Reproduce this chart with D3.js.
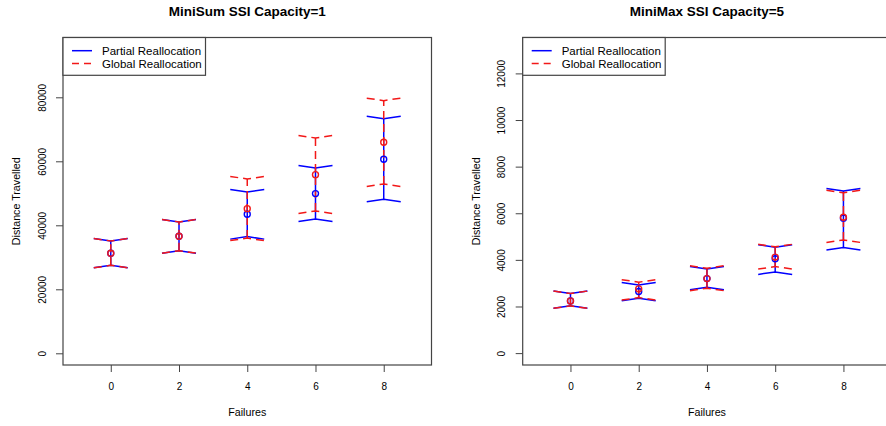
<!DOCTYPE html>
<meta charset="utf-8" />
<style>
  body {
    margin: 0;
    background: #fff;
  }
  text {
    font-family: "Liberation Sans", Arial, Helvetica, sans-serif;
    fill: #000;
  }
</style>
<body>
  <script src="https://cdn.jsdelivr.net/npm/d3@7/dist/d3.min.js"></script>
  <script>
    // x values (number of failures)
    var failures = [0, 2, 4, 6, 8];

    // MiniSum, capacity 1: mean and interval ends
    var minisumPartialMean = [31250, 36560, 43440, 49900, 60620];
    var minisumPartialLow = [27500, 32080, 36460, 41980, 48120];
    var minisumPartialHigh = [35100, 41040, 50420, 57920, 73330];
    var minisumGlobalMean = [31250, 36560, 45210, 55830, 65940];
    var minisumGlobalLow = [27500, 32080, 36000, 44480, 52920];
    var minisumGlobalHigh = [35100, 41040, 54480, 67290, 78960];

    // MiniMax, capacity 5
    var minimaxPartialMean = [2241, 2640, 3197, 4050, 5790];
    var minimaxPartialLow = [2027, 2357, 2829, 3484, 4526];
    var minimaxPartialHigh = [2554, 2927, 3613, 4543, 6956];
    var minimaxGlobalMean = [2241, 2756, 3197, 4120, 5830];
    var minimaxGlobalLow = [2027, 2383, 2786, 3713, 4856];
    var minimaxGlobalHigh = [2554, 3043, 3640, 4560, 6880];

    // tick labels
    var minisumTicks = [0, 20000, 40000, 60000, 80000];
    var minimaxTicks = [0, 2000, 4000, 6000, 8000, 10000, 12000];

    var seriesNames = ["Partial Reallocation", "Global Reallocation"];

    var blue = "#0000ff",
      red = "#f21818",
      redDash = "8,5";

    // plot region (pixels), same for both panels
    var panelW = 368.5,
      plotTop = 37.5,
      plotBottom = 365;

    var svg = d3
      .select("body")
      .append("svg")
      .attr("width", 886)
      .attr("height", 426)
      .style("display", "block");

    function rows(mean, low, high) {
      return failures.map(function (f, i) {
        return { f: f, mean: mean[i], low: low[i], high: high[i] };
      });
    }

    function drawPanel(p) {
      var x = d3.scaleLinear().domain([-1.4, 9.4]).range([p.left, p.left + panelW]);
      var y = d3.scaleLinear().domain(p.yDomain).range([plotBottom, plotTop]);
      var g = svg.append("g");

      // title
      g.append("text")
        .attr("x", p.left + panelW / 2)
        .attr("y", 16)
        .attr("text-anchor", "middle")
        .style("font-size", "13.5px")
        .style("font-weight", "bold")
        .text(p.title);

      // bottom axis
      var xa = g
        .append("g")
        .attr("transform", "translate(0," + plotBottom + ")")
        .call(d3.axisBottom(x).tickValues(failures).tickSize(7).tickSizeOuter(0).tickPadding(10.5));
      xa.select(".domain").remove();
      xa.selectAll("line").attr("stroke", "#444");
      xa.selectAll("text").style("font-size", "10px").attr("font-family", null);

      // left axis, labels turned like R
      var ya = g
        .append("g")
        .attr("transform", "translate(" + p.left + ",0)")
        .call(d3.axisLeft(y).tickValues(p.ticks).tickSize(7).tickSizeOuter(0).tickFormat(d3.format("d")));
      ya.select(".domain").remove();
      ya.selectAll("line").attr("stroke", "#444");
      ya.selectAll("text")
        .attr("x", 0)
        .attr("dy", null)
        .attr("font-family", null)
        .attr("text-anchor", "middle")
        .attr("transform", "translate(-17.5,0) rotate(-90)")
        .style("font-size", "10px");

      // axis titles
      g.append("text")
        .attr("transform", "translate(" + (p.left - 43) + "," + (plotTop + plotBottom) / 2 + ") rotate(-90)")
        .attr("text-anchor", "middle")
        .style("font-size", "10.7px")
        .text("Distance Travelled");

      g.append("text")
        .attr("x", x(4))
        .attr("y", 416)
        .attr("text-anchor", "middle")
        .style("font-size", "10.7px")
        .text("Failures");

      // error bars, partial (blue) first, global (red dashed) on top
      [
        { data: p.partial, color: blue, dash: null },
        { data: p.global, color: red, dash: redDash }
      ].forEach(function (s) {
        var eb = g.append("g")
          .attr("fill", "none")
          .attr("stroke", s.color)
          .attr("stroke-width", 1.5)
          .attr("stroke-dasharray", s.dash);

        eb.selectAll(".shaft")
          .data(s.data)
          .enter()
          .append("line")
          .attr("x1", function (d) { return x(d.f); })
          .attr("x2", function (d) { return x(d.f); })
          .attr("y1", function (d) { return y(d.low); })
          .attr("y2", function (d) { return y(d.high); });

        eb.selectAll(".capHigh")
          .data(s.data)
          .enter()
          .append("path")
          .attr("d", function (d) {
            var cx = x(d.f), cy = y(d.high);
            return "M" + (cx - 17) + "," + (cy - 2.5) + "L" + cx + "," + cy + "L" + (cx + 17) + "," + (cy - 2.5);
          });

        eb.selectAll(".capLow")
          .data(s.data)
          .enter()
          .append("path")
          .attr("d", function (d) {
            var cx = x(d.f), cy = y(d.low);
            return "M" + (cx - 17) + "," + (cy + 2.5) + "L" + cx + "," + cy + "L" + (cx + 17) + "," + (cy + 2.5);
          });
      });

      [
        { data: p.partial, color: blue },
        { data: p.global, color: red }
      ].forEach(function (s) {
        g.selectAll(null)
          .data(s.data)
          .enter()
          .append("circle")
          .attr("cx", function (d) { return x(d.f); })
          .attr("cy", function (d) { return y(d.mean); })
          .attr("r", 3)
          .attr("fill", "none")
          .attr("stroke", s.color)
          .attr("stroke-width", 1.4);
      });

      // plot box
      g.append("rect")
        .attr("x", p.left)
        .attr("y", plotTop)
        .attr("width", panelW)
        .attr("height", plotBottom - plotTop)
        .attr("fill", "none")
        .attr("stroke", "#444")
        .attr("stroke-width", 1.2);

      // legend
      var lg = g.append("g").attr("transform", "translate(" + p.left + "," + plotTop + ")");
      lg.append("rect")
        .attr("width", 142.5)
        .attr("height", 37.8)
        .attr("fill", "#fff")
        .attr("stroke", "#444")
        .attr("stroke-width", 1.2);
      seriesNames.forEach(function (name, i) {
        var ry = 13.2 + i * 12.8;
        lg.append("line")
          .attr("x1", 9)
          .attr("x2", 29)
          .attr("y1", ry)
          .attr("y2", ry)
          .attr("stroke", i === 0 ? blue : red)
          .attr("stroke-width", 1.5)
          .attr("stroke-dasharray", i === 0 ? null : "7,5");
        lg.append("text")
          .attr("x", 39)
          .attr("y", ry + 4)
          .style("font-size", "11.5px")
          .text(name);
      });
    }

    drawPanel({
      left: 63,
      title: "MiniSum SSI Capacity=1",
      yDomain: [-3656, 98690],
      ticks: minisumTicks,
      partial: rows(minisumPartialMean, minisumPartialLow, minisumPartialHigh),
      global: rows(minisumGlobalMean, minisumGlobalLow, minisumGlobalHigh)
    });

    drawPanel({
      left: 522.7,
      title: "MiniMax SSI Capacity=5",
      yDomain: [-510, 13540],
      ticks: minimaxTicks,
      partial: rows(minimaxPartialMean, minimaxPartialLow, minimaxPartialHigh),
      global: rows(minimaxGlobalMean, minimaxGlobalLow, minimaxGlobalHigh)
    });
  </script>
</body>
